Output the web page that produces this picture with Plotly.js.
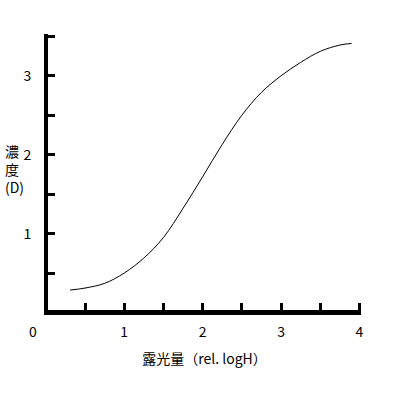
<!DOCTYPE html>
<html><head><meta charset="utf-8">
<script src="https://cdn.plot.ly/plotly-3.0.1.min.js"></script>
<style>html,body{margin:0;padding:0;background:#fff}</style>
</head><body>
<div id="chart" style="width:400px;height:400px"></div>
<script>
// Characteristic curve (density vs relative log exposure)
const logExposure = [0.31, 0.5, 0.75, 1.0, 1.25, 1.5, 1.75, 2.0, 2.25, 2.5, 2.75, 3.0, 3.25, 3.5, 3.75, 3.90];
const density     = [0.285, 0.31, 0.37, 0.50, 0.69, 0.95, 1.32, 1.72, 2.13, 2.50, 2.79, 3.00, 3.17, 3.31, 3.39, 3.41];
const xTickVals = [0.5, 1, 1.5, 2, 2.5, 3, 3.5, 4];
const xTickText = ["", "1", "", "2", "", "3", "", "4"];
const yTickVals = [0.5, 1, 1.5, 2, 2.5, 3, 3.5];
const yTickText = ["", "1", "", "2", "", "3", ""];
const xTitle = "露光量（rel. logH）";
const yTitle = "濃<br>度<br>(D)";
const originLabel = "0";

const font = {family: "Noto Sans CJK JP", size: 14, color: "#000"};
Plotly.newPlot("chart", [{
  x: logExposure, y: density, type: "scatter", mode: "lines",
  line: {color: "#000", width: 1, shape: "spline", smoothing: 1},
  hoverinfo: "skip"
}], {
  width: 400, height: 400,
  margin: {l: 48, r: 39, t: 34, b: 90},
  paper_bgcolor: "#fff", plot_bgcolor: "#fff",
  showlegend: false, font: font,
  xaxis: {
    range: [0.028, 4.02], showgrid: false, zeroline: false,
    showline: true, linecolor: "#000", linewidth: 5,
    ticks: "inside", ticklen: 7, tickwidth: 3, tickcolor: "#000",
    tickvals: xTickVals, ticktext: xTickText, tickfont: font, ticklabelstandoff: 5,
    title: {text: xTitle, font: {family: "Noto Sans CJK JP", size: 14, color: "#000"}, standoff: 16}
  },
  yaxis: {
    range: [0.032, 3.53], showgrid: false, zeroline: false,
    showline: true, linecolor: "#000", linewidth: 4,
    ticks: "inside", ticklen: 7, tickwidth: 3, tickcolor: "#000",
    tickvals: yTickVals, ticktext: yTickText, tickfont: font, ticklabelstandoff: 10
  },
  annotations: [
    {text: yTitle, xref: "paper", yref: "paper", x: -0.145, y: 0.51, xanchor: "left", yanchor: "middle",
     align: "left", showarrow: false, font: {family: "Noto Sans CJK JP", size: 14, color: "#000"}},
    {text: originLabel, xref: "paper", yref: "paper", x: -0.048, y: -0.075, xanchor: "center", yanchor: "middle",
     showarrow: false, font: font}
  ]
}, {staticPlot: true});
</script>
</body></html>
